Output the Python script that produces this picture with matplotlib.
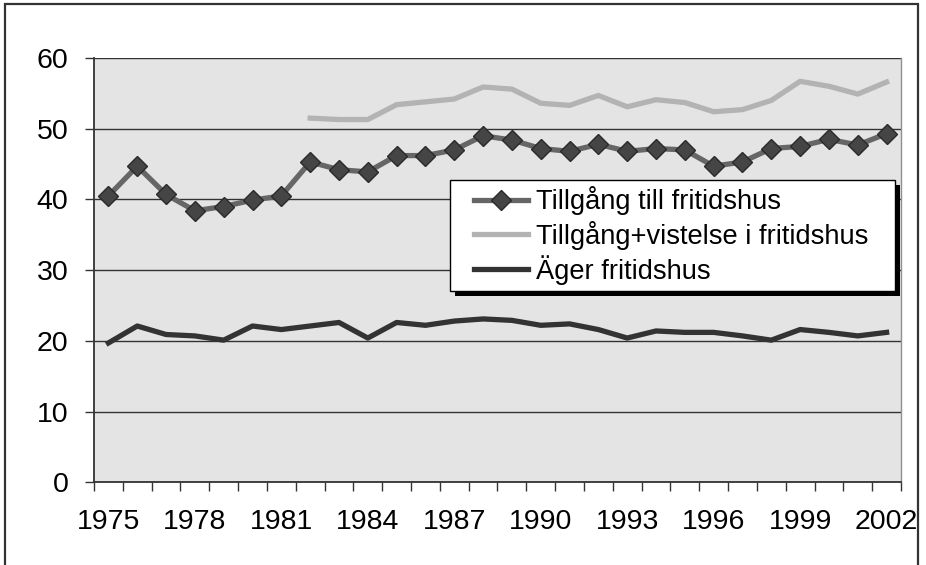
import numpy as np
import matplotlib
matplotlib.use('Agg')
import matplotlib.pyplot as plt
from matplotlib.patches import Rectangle

plt.rcParams['font.family'] = ['Liberation Sans', 'DejaVu Sans']

years = list(range(1975, 2003))

tillgang = [40.5, 44.7, 40.7, 38.4, 39.0, 39.9, 40.5, 45.3, 44.2, 43.9,
            46.2, 46.2, 47.0, 49.0, 48.4, 47.2, 46.8, 47.8, 46.8, 47.2,
            47.0, 44.7, 45.3, 47.2, 47.5, 48.5, 47.7, 49.3]

# series starts 1982
vistelse_years = list(range(1982, 2003))
vistelse = [51.5, 51.3, 51.3, 53.4, 53.8, 54.2, 55.9, 55.6, 53.6, 53.3,
            54.7, 53.1, 54.1, 53.7, 52.4, 52.7, 54.0, 56.7, 56.0, 54.9, 56.6]

ager = [19.7, 22.1, 20.9, 20.7, 20.1, 22.1, 21.6, 22.1, 22.6, 20.4,
        22.6, 22.2, 22.8, 23.1, 22.9, 22.2, 22.4, 21.6, 20.4, 21.4,
        21.2, 21.2, 20.7, 20.1, 21.6, 21.2, 20.7, 21.2]

labels = ['Tillgång till fritidshus', 'Tillgång+vistelse i fritidshus', 'Äger fritidshus']

fig = plt.figure(figsize=(9.26, 5.65), dpi=100)
ax = fig.add_axes([94/926, 1-482.3/565, 807/926, 424.3/565])
ax.set_facecolor('#e4e4e4')

x = np.arange(len(years))
xv = np.array([years.index(y) for y in vistelse_years])

ax.plot(x, tillgang, color='#666666', lw=3.8, marker='D', ms=10,
        mfc='#454545', mec='#2a2a2a', mew=1, label=labels[0], zorder=4)
ax.plot(xv, vistelse, color='#b3b3b3', lw=3.8, label=labels[1], zorder=3)
ax.plot(x, ager, color='#333333', lw=3.8, label=labels[2], zorder=3)

ax.set_ylim(0, 60)
ax.set_xlim(-0.5, len(years) - 0.5)
ax.set_yticks(np.arange(0, 61, 10))
ax.yaxis.grid(True, color='#333333', lw=1)
ax.set_axisbelow(True)

ax.set_xticks(x[::3])
ax.set_xticklabels([str(y) for y in years[::3]])
ax.set_xticks(np.arange(-0.5, len(years), 1), minor=True)
ax.tick_params(axis='x', which='major', length=0, pad=19, labelsize=20.5)
ax.tick_params(axis='x', which='minor', length=6.5, width=1, color='#333333')
ax.tick_params(axis='y', length=6.5, width=1, color='#333333', pad=12, labelsize=20.5)

for s in ['left', 'bottom']:
    ax.spines[s].set_color('#333333')
    ax.spines[s].set_linewidth(1.3)
ax.spines['right'].set_color('#909090')
ax.spines['right'].set_linewidth(1)
ax.spines['top'].set_visible(False)

leg = ax.legend(loc='upper left', bbox_to_anchor=(0.4705, 0.698), frameon=False,
                fontsize=19.6, borderpad=0, handlelength=2.0, handletextpad=0.3,
                labelspacing=0.2, borderaxespad=0)

fig.canvas.draw()
bb = leg.get_window_extent()
x0, y0 = bb.x0 - 24, bb.y0 - 6
w, h = bb.width + 50, bb.height + 12
fig.patches.append(Rectangle((x0 + 5, y0 - 5), w, h, transform=None,
                             facecolor='black', edgecolor='none', zorder=8))
fig.patches.append(Rectangle((x0, y0), w, h, transform=None,
                             facecolor='white', edgecolor='black', lw=1, zorder=9))
# move legend above the frame
leg.remove()
fig.add_artist(leg)
leg.set_zorder(11)

# outer border
fig.patches.append(Rectangle((4.5/926, -0.05), 913/926, 1.05 - 3.5/565,
                             transform=fig.transFigure, fill=False,
                             edgecolor='#333333', lw=1.6))

fig.savefig('out.png', dpi=100)
